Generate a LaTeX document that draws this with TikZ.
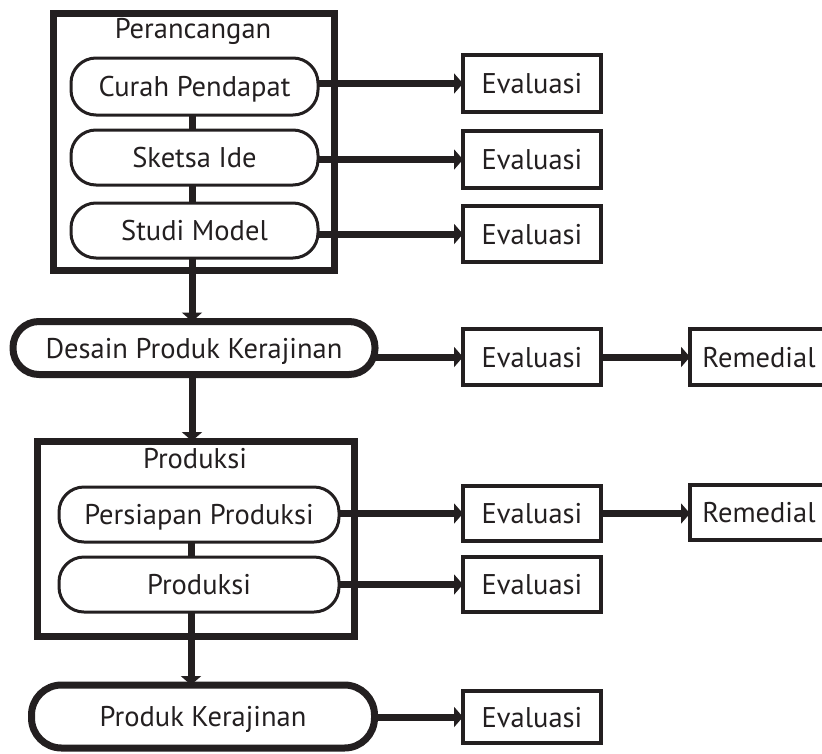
\documentclass[tikz,border=0pt]{standalone}
\usepackage{fontspec}
\setmainfont{PT Sans}
\usetikzlibrary{arrows.meta}
\definecolor{ink}{HTML}{231F20}
\tikzset{
  every node/.style={inner sep=0pt, outer sep=0pt, text=ink, font=\fontsize{28.5}{34}\selectfont, text height=20pt, text depth=0pt},
  frame/.style={draw=ink, line width=7pt, rectangle},
  sub/.style={draw=ink, line width=3pt, rectangle, rounded corners=25pt, minimum width=247pt, minimum height=55pt},
  main/.style={draw=ink, line width=7pt, rectangle, rounded corners=26pt},
  evbox/.style={draw=ink, line width=4pt, rectangle, minimum width=138pt, minimum height=56pt},
  arr/.style={draw=ink, line width=7pt, -{Triangle[length=9pt,width=20pt]}},
  link/.style={draw=ink, line width=7pt}
}
\begin{document}
\begin{tikzpicture}[x=1pt,y=-1pt]
\useasboundingbox (0,0) rectangle (822,753);
\clip (0,0) rectangle (822,753);

% Perancangan
\node[frame, minimum width=281pt, minimum height=257pt] (frame1) at (193.5,141.5) {};
\node (lab1) at (193,28) {Perancangan};
\node[sub, minimum height=57pt] (curah) at (194.5,86.5) {Curah Pendapat};
\node[sub] (sketsa) at (194.5,157.5) {Sketsa Ide};
\node[sub] (studi) at (194.5,230.5) {Studi Model};

\node[evbox, minimum height=57pt] (ev1) at (532,83.5) {Evaluasi};
\node[evbox, minimum height=57pt] (ev2) at (532,159.5) {Evaluasi};
\node[evbox] (ev3) at (532,234) {Evaluasi};

% Desain
\node[main, minimum width=362pt, minimum height=53pt] (desain) at (194,348) {Desain Produk Kerajinan};
\node[evbox] (ev4) at (532,357) {Evaluasi};
\node[evbox] (rem1) at (759,357) {Remedial};

% Produksi
\node[frame, minimum width=317pt, minimum height=195pt] (frame2) at (195.5,538.5) {};
\node (lab2) at (195,458) {Produksi};
\node[sub, minimum width=280pt] (persiapan) at (199,514.5) {Persiapan Produksi};
\node[sub, minimum width=280pt] (produksi) at (199,584.5) {Produksi};
\node[evbox, minimum height=55pt] (ev5) at (532,513.5) {Evaluasi};
\node[evbox, minimum height=55pt] (rem2) at (759,512.5) {Remedial};
\node[evbox, minimum height=55pt] (ev6) at (532,584.5) {Evaluasi};

% Produk Kerajinan
\node[main, minimum width=343pt, minimum height=63pt, rounded corners=30pt] (produk) at (203,716.5) {Produk Kerajinan};
\node[evbox, minimum height=52pt] (ev7) at (532,717) {Evaluasi};

% vertical links
\coordinate (cx1) at (192,0);
\draw[link] (curah.south -| cx1) -- (sketsa.north -| cx1);
\draw[link] (sketsa.south -| cx1) -- (studi.north -| cx1);
\draw[link] (studi.south -| cx1) -- (frame1.south -| cx1);
\draw[arr] (frame1.south -| cx1) -- (desain.north -| cx1);
\draw[arr] (desain.south -| cx1) -- (frame2.north -| cx1);
\coordinate (cx2) at (191,0);
\draw[link] (persiapan.south -| cx2) -- (produksi.north -| cx2);
\draw[link] (produksi.south -| cx2) -- (frame2.south -| cx2);
\draw[arr] (frame2.south -| cx2) -- (produk.north -| cx2);

% horizontal arrows
\draw[arr] (ev1.west -| curah.east) -- (ev1.west);
\draw[arr] (ev2.west -| sketsa.east) -- (ev2.west);
\draw[arr] (ev3.west -| studi.east) -- (ev3.west);
\draw[arr] (ev4.west -| desain.east) -- (ev4.west);
\draw[arr] (ev4.east) -- (rem1.west);
\draw[arr] (ev5.west -| persiapan.east) -- (ev5.west);
\draw[arr] (ev5.east) -- (rem2.west |- ev5.east);
\draw[arr] (ev6.west -| produksi.east) -- (ev6.west);
\draw[arr] (ev7.west -| produk.east) -- (ev7.west);
\end{tikzpicture}
\end{document}
